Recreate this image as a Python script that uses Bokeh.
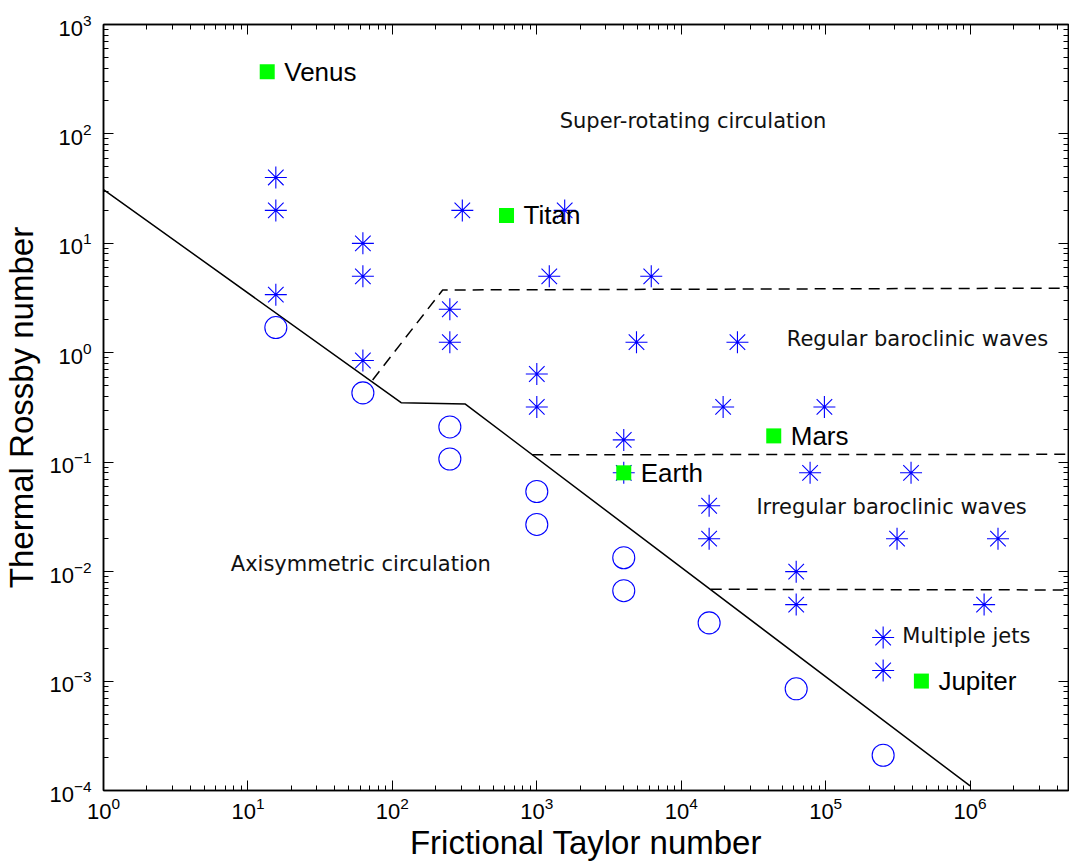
from bokeh.plotting import figure
from bokeh.models import LogAxis, LogTicker, ColumnDataSource
from bokeh.core.properties import value
from bokeh.embed import file_html
from bokeh.resources import INLINE

# Laboratory runs: baroclinic / super-rotating regimes (asterisks)
wave_taylor = [15.6, 15.6, 15.6, 62.5, 62.5, 62.5, 250, 250, 305, 1560,
               1220, 6200, 1000, 1000, 4900, 24500, 4000, 4000, 19500, 98000,
               15600, 15600, 78000, 390000, 312000, 1560000, 62500, 62500,
               1250000, 250000, 250000]
wave_rossby = [40, 20, 3.4, 10, 5, 0.85, 2.5, 1.25, 20, 20,
               5, 5, 0.64, 0.32, 1.25, 1.25, 0.16, 0.08, 0.32, 0.32,
               0.04, 0.02, 0.08, 0.08, 0.02, 0.02, 0.01, 0.005,
               0.005, 0.0025, 0.00125]

# Laboratory runs: axisymmetric regime (open circles)
axi_taylor = [15.6, 62.5, 250, 250, 1000, 1000, 4000, 4000, 15600, 62500, 250000]
axi_rossby = [1.7, 0.43, 0.21, 0.107, 0.054, 0.027, 0.0134, 0.0067, 0.0034,
              0.00085, 0.00021]

# Planetary atmospheres
planet_names = ["Venus", "Titan", "Mars", "Earth", "Jupiter"]
planet_taylor = [13.6, 617, 43700, 4000, 460000]
planet_rossby = [370, 18, 0.174, 0.08, 0.001]

# Regime boundaries
X_MIN, X_MAX = 1, 4.8e6
Y_MIN, Y_MAX = 1e-4, 1e3
axi_boundary_x = [1, 115, 320, 1e6]
axi_boundary_y = [31, 0.35, 0.34, 1.1e-4]
super_boundary_x = [73, 223, X_MAX]
super_boundary_y = [0.565, 3.75, 3.9]
irregular_boundary_x = [930, X_MAX]
irregular_boundary_y = [0.117, 0.118]
jets_boundary_x = [16000, X_MAX]
jets_boundary_y = [0.0069, 0.0068]

# Regime names
regime_names = ["Super-rotating circulation", "Regular baroclinic waves",
                "Irregular baroclinic waves", "Multiple jets",
                "Axisymmetric circulation"]
regime_x = [12060, 432000, 286000, 942000, 60.5]
regime_y = [130, 1.34, 0.039, 0.0026, 0.0118]

SANS = "Liberation Sans"

p = figure(width=1069, height=866, x_axis_type="log", y_axis_type="log",
           x_range=(X_MIN, X_MAX), y_range=(Y_MIN, Y_MAX),
           output_backend="svg", toolbar_location=None,
           min_border_left=100, min_border_right=1,
           min_border_top=24, min_border_bottom=76)
p.background_fill_color = "white"
p.border_fill_color = "white"
p.outline_line_color = "black"
p.outline_line_width = 1.5
p.xgrid.visible = False
p.ygrid.visible = False


def style_axis(ax, labels=True):
    ax.ticker = LogTicker(num_minor_ticks=10)
    ax.axis_line_color = "black"
    ax.axis_line_width = 1.5
    ax.major_tick_in = 10
    ax.major_tick_out = 0
    ax.minor_tick_in = 5
    ax.minor_tick_out = 0
    ax.major_tick_line_color = "black"
    ax.minor_tick_line_color = "black"
    ax.major_tick_line_width = 1
    ax.minor_tick_line_width = 1
    if labels:
        ax.major_label_text_font = SANS
        ax.major_label_text_font_size = "22px"
        ax.major_label_text_color = "black"
        ax.axis_label_text_font = SANS
        ax.axis_label_text_font_size = "33px"
        ax.axis_label_text_font_style = "normal"
        ax.axis_label_text_color = "black"
    else:
        # frame-side ticks only: labels kept tiny and invisible
        ax.major_label_text_font_size = "1px"
        ax.major_label_text_alpha = 0
        ax.major_label_standoff = 0


style_axis(p.xaxis[0])
style_axis(p.yaxis[0])
p.xaxis.axis_label = "Frictional Taylor number"
p.yaxis.axis_label = "Thermal Rossby number"
p.xaxis.major_label_standoff = 6
p.yaxis.major_label_standoff = 12
p.xaxis.axis_label_standoff = 2
p.yaxis.axis_label_standoff = 6

top_axis = LogAxis()
style_axis(top_axis, labels=False)
p.add_layout(top_axis, "above")
right_axis = LogAxis()
style_axis(right_axis, labels=False)
p.add_layout(right_axis, "right")

# Boundaries between regimes
p.line(axi_boundary_x, axi_boundary_y, line_color="black", line_width=1.5)
for bx, by in [(super_boundary_x, super_boundary_y),
               (irregular_boundary_x, irregular_boundary_y),
               (jets_boundary_x, jets_boundary_y)]:
    p.line(bx, by, line_color="black", line_width=1.5, line_dash="11 7")

# Laboratory experiments
p.scatter(wave_taylor, wave_rossby, marker="asterisk", size=22,
          line_color="#0000ff", line_width=1.1)
p.scatter(axi_taylor, axi_rossby, marker="circle", size=22,
          line_color="#0000ff", line_width=1.1, fill_color=None)

# Planets
planets = ColumnDataSource(dict(x=planet_taylor, y=planet_rossby, name=planet_names))
p.scatter("x", "y", source=planets, marker="square", size=15,
          fill_color="#00ff00", line_color=None)
p.text("x", "y", text="name", source=planets, x_offset=17,
       text_align="left", text_baseline="middle",
       text_font=value(SANS), text_font_size="26px", text_color="black")

regimes = ColumnDataSource(dict(x=regime_x, y=regime_y, name=regime_names))
p.text("x", "y", text="name", source=regimes,
       text_align="center", text_baseline="middle",
       text_font=value("DejaVu Sans"), text_font_size="21px", text_color="#111111")

open("out.html", "w").write(file_html(p, INLINE))
